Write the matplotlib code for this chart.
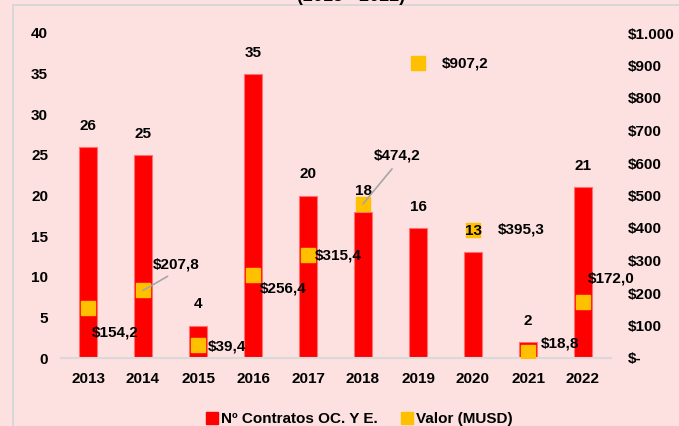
import matplotlib.pyplot as plt
from matplotlib.patches import Rectangle
from matplotlib.lines import Line2D

years = ['2013', '2014', '2015', '2016', '2017', '2018', '2019', '2020', '2021', '2022']
contratos = [26, 25, 4, 35, 20, 18, 16, 13, 2, 21]
valor = [154.2, 207.8, 39.4, 256.4, 315.4, 474.2, 907.2, 395.3, 18.8, 172.0]
valor_labels = ['$154,2', '$207,8', '$39,4', '$256,4', '$315,4', '$474,2', '$907,2', '$395,3', '$18,8', '$172,0']
left_ticks = [0, 5, 10, 15, 20, 25, 30, 35, 40]
right_ticks = [0, 100, 200, 300, 400, 500, 600, 700, 800, 900, 1000]
right_tick_labels = ['$-', '$100', '$200', '$300', '$400', '$500', '$600', '$700', '$800', '$900', '$1.000']

# label offsets (pixels) of the value labels from each marker
lbl_dx = [27, 33, 29, 30, 30, 34, 47, 48, 32, 28]
lbl_dy = [-25, 26, -1, -14, 0, 48, 0, 0, 8, 24]
leader = [False, True, False, False, False, True, False, False, False, False]

bg = '#FDE0E0'
red = '#FF0000'
gold = '#FFC000'

plt.rcParams['font.family'] = ['Liberation Sans', 'DejaVu Sans']
plt.rcParams['font.weight'] = 'bold'

fig = plt.figure(figsize=(6.79, 4.26), dpi=100, facecolor=bg)
fig.patches.append(Rectangle((13 / 679, -0.05), 1.1, 1.05 - 5 / 426, transform=fig.transFigure,
                             fill=False, edgecolor='#D0D4D8', linewidth=1.2))
fig.text(351 / 679, 1 - 1 / 426, '(2013 - 2022)', ha='center', va='baseline', fontsize=13, fontweight='bold')

ax = fig.add_axes([60.5 / 679, (426 - 358) / 426, 550 / 679, 325 / 426])
ax.set_facecolor('none')
x = list(range(len(years)))
ax.bar(x, contratos, width=0.31, color=red, edgecolor='#FF7070', linewidth=0.8, zorder=2)
ax.set_xlim(-0.5, 9.5)
ax.set_ylim(0, 40)
ax.set_yticks(left_ticks)
ax.set_xticks(x)
ax.set_xticklabels(years)
for s in ['top', 'right', 'left']:
    ax.spines[s].set_visible(False)
ax.spines['bottom'].set_color('#D9D9D9')
ax.spines['bottom'].set_linewidth(1.5)
ax.tick_params(axis='both', length=0, labelsize=11)
ax.tick_params(axis='y', pad=9)
ax.tick_params(axis='x', pad=10)

ax2 = ax.twinx()
ax2.set_ylim(0, 1000)
ax2.set_yticks(right_ticks)
ax2.set_yticklabels(right_tick_labels)
for s in ['top', 'right', 'left', 'bottom']:
    ax2.spines[s].set_visible(False)
ax2.tick_params(axis='y', length=0, labelsize=11, pad=12.6)
ax2.plot(x, valor, linestyle='none', marker='s', markersize=10, color=gold, zorder=3)

# bar labels drawn on ax2 (in ax data coords) so they stay above the markers
for i, c in enumerate(contratos):
    ax2.annotate(str(c), (i, c), xycoords=ax.transData, xytext=(0, 21), textcoords='offset pixels',
                 ha='center', va='center', fontsize=11, fontweight='bold', zorder=5)

for i, v in enumerate(valor):
    props = None
    if leader[i]:
        props = dict(arrowstyle='-', color='#A6A6A6', lw=1.2, relpos=(0.5, 0), shrinkA=3, shrinkB=0)
    ax2.annotate(valor_labels[i], (i, v), xytext=(lbl_dx[i], lbl_dy[i]), textcoords='offset pixels',
                 ha='center', va='center', fontsize=11, fontweight='bold', arrowprops=props, zorder=6)

handles = [Line2D([], [], linestyle='none', marker='s', markersize=8, color=red),
           Line2D([], [], linestyle='none', marker='s', markersize=8, color=gold)]
fig.legend(handles, ['Nº Contratos OC. Y E.', 'Valor (MUSD)'], loc='center', bbox_to_anchor=(360 / 679, 7 / 426),
           ncol=2, frameon=False, handlelength=0.6, handletextpad=0.3, columnspacing=1.6,
           prop={'weight': 'bold', 'size': 11})

fig.savefig('out.png', dpi=100, facecolor=bg)
